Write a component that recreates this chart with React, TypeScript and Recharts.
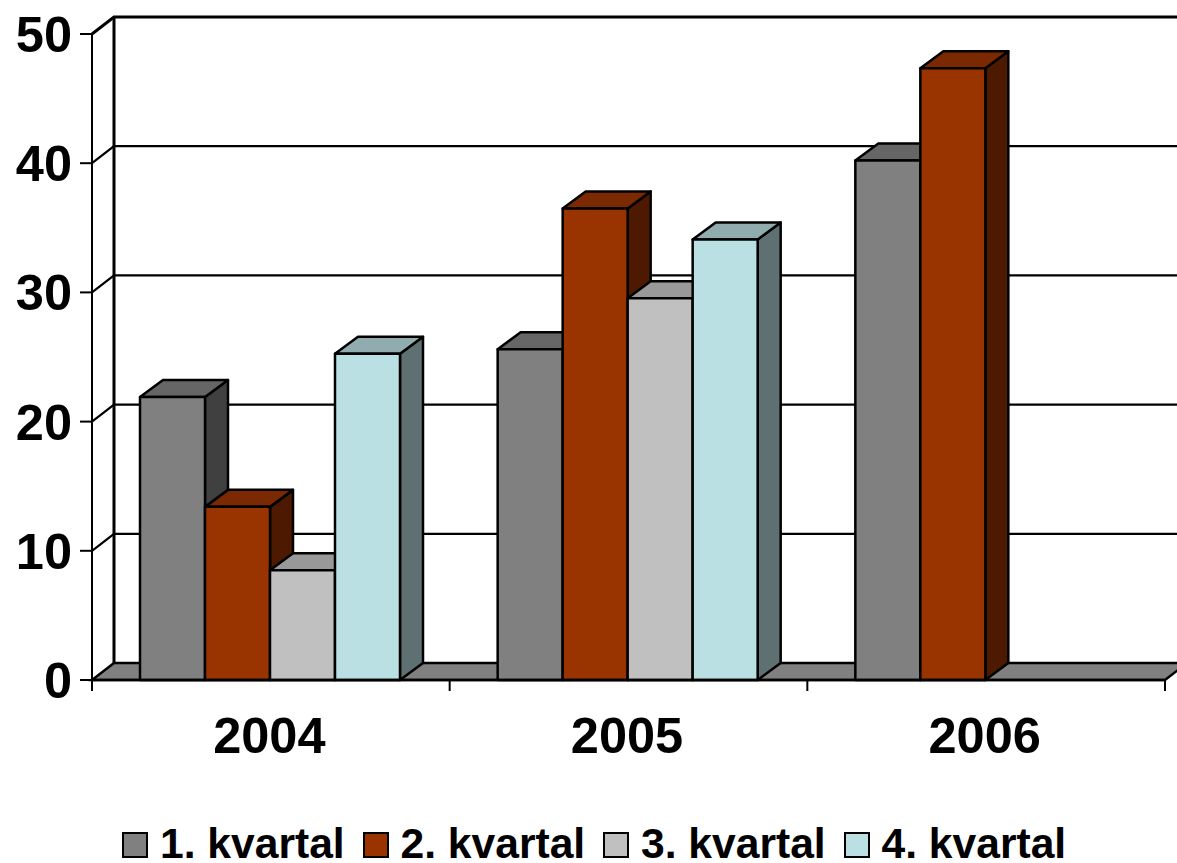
import { BarChart, Bar, XAxis, YAxis, CartesianGrid, Legend } from 'recharts'

const years = ['2004', '2005', '2006']
const q1 = [21.9, 25.6, 40.2]
const q2 = [13.4, 36.5, 47.35]
const q3 = [8.5, 29.55, null]
const q4 = [25.25, 34.1, null]
const seriesNames = ['1. kvartal', '2. kvartal', '3. kvartal', '4. kvartal']
const yTicks = [0, 10, 20, 30, 40, 50]

const colors = ['#808080', '#993300', '#C0C0C0', '#BBE0E3']
const sideColors = ['#404040', '#4D1900', '#606060', '#5E7072']
const topColors = ['#666666', '#7A2900', '#999999', '#90ACAE']

const data = years.map((year, i) => ({ year, q1: q1[i], q2: q2[i], q3: q3[i], q4: q4[i] }))
const seriesKeys = ['q1', 'q2', 'q3', 'q4']

const FONT = '"Liberation Sans", Arial, sans-serif'
const DEPTH_X = 23
const DEPTH_Y = 17
const WALL_X = 22
const PLOT_LEFT = 92
const PLOT_RIGHT = 1165
const BAND = (PLOT_RIGHT - PLOT_LEFT) / years.length

function Bar3D(props: any) {
  const { x, y, width, height, index } = props
  if (!height || height <= 0) return null
  const si = props.seriesIndex
  const r = x + width
  const b = y + height
  return (
    <g stroke="#000" strokeWidth={2.5} strokeLinejoin="round" key={index}>
      <polygon
        points={`${r},${y} ${r + DEPTH_X},${y - DEPTH_Y} ${r + DEPTH_X},${b - DEPTH_Y} ${r},${b}`}
        fill={sideColors[si]}
      />
      <polygon
        points={`${x},${y} ${x + DEPTH_X},${y - DEPTH_Y} ${r + DEPTH_X},${y - DEPTH_Y} ${r},${y}`}
        fill={topColors[si]}
      />
      <rect x={x} y={y} width={width} height={height} fill={colors[si]} />
    </g>
  )
}

// back wall line for each y tick, the one at 0 also gets the floor
function WallLine(props: any) {
  const { x1, x2, y1, index } = props
  const isFloor = Math.abs(y1 - 680) < 1
  const isTop = Math.abs(y1 - 34) < 1
  if (isFloor) {
    return (
      <g key={`wall-${index}`}>
        <polygon
          points={`${x1},${y1} ${x1 + WALL_X},${y1 - DEPTH_Y} ${x2 + WALL_X},${y1 - DEPTH_Y} ${x2},${y1}`}
          fill="#808080"
          stroke="#000"
          strokeWidth={2.5}
        />
        <line x1={x1 + WALL_X} x2={x1 + WALL_X} y1={34 - DEPTH_Y} y2={y1 - DEPTH_Y} stroke="#000" strokeWidth={3} />
      </g>
    )
  }
  return (
    <polyline
      key={`wall-${index}`}
      points={`${x1},${y1} ${x1 + WALL_X},${y1 - DEPTH_Y} ${x2 + WALL_X},${y1 - DEPTH_Y}`}
      fill="none"
      stroke="#000"
      strokeWidth={isTop ? 3 : 2.2}
    />
  )
}

function YearTick(props: any) {
  const { x, payload, index } = props
  const left = x - BAND / 2
  return (
    <g>
      <line x1={left} x2={left} y1={680} y2={691} stroke="#000" strokeWidth={2} />
      {index === years.length - 1 && (
        <line x1={left + BAND} x2={left + BAND} y1={680} y2={691} stroke="#000" strokeWidth={2} />
      )}
      <text x={x - 1.5} y={753} textAnchor="middle" fontFamily={FONT} fontWeight="bold" fontSize={50.5} fill="#000">
        {payload.value}
      </text>
    </g>
  )
}

function KvartalLegend() {
  return (
    <div style={{ display: 'flex', fontFamily: FONT, fontWeight: 'bold', fontSize: 42.6, lineHeight: '30px', height: 30, color: '#000' }}>
      {seriesNames.map((name, i) => (
        <div key={name} style={{ width: 240.5, display: 'flex', alignItems: 'center', whiteSpace: 'nowrap' }}>
          <span
            style={{
              width: 22,
              height: 22,
              marginRight: 12,
              background: colors[i],
              border: '2px solid #000',
              display: 'inline-block',
              flex: 'none',
              position: 'relative',
              top: 1.5,
            }}
          />
          {name}
        </div>
      ))}
    </div>
  )
}

export default function App() {
  return (
    <div style={{ position: 'absolute', left: 0, top: 0, width: 1177, height: 863, overflow: 'hidden', background: '#fff' }}>
      <BarChart
        width={1177}
        height={863}
        data={data}
        margin={{ top: 34, right: 12, bottom: 123, left: 0 }}
        barCategoryGap={48}
        barGap={0}
      >
        <CartesianGrid horizontal={WallLine} vertical={false} />
        <XAxis
          dataKey="year"
          height={60}
          tickLine={false}
          axisLine={{ stroke: '#000', strokeWidth: 2.5 }}
          tick={YearTick}
          interval={0}
        />
        <YAxis
          width={92}
          domain={[0, 50]}
          ticks={yTicks}
          tickSize={12}
          tickMargin={8}
          axisLine={{ stroke: '#000', strokeWidth: 2 }}
          tickLine={{ stroke: '#000', strokeWidth: 2 }}
          tick={{ fontFamily: FONT, fontWeight: 'bold', fontSize: 50.5, fill: '#000' }}
        />
        {seriesKeys.map((key, si) => (
          <Bar
            key={key}
            dataKey={key}
            name={seriesNames[si]}
            fill={colors[si]}
            isAnimationActive={false}
            shape={(p: any) => <Bar3D {...p} seriesIndex={si} />}
          />
        ))}
        <Legend
          layout="horizontal"
          verticalAlign="middle"
          content={KvartalLegend}
          wrapperStyle={{ position: 'absolute', left: 122, top: 828, width: 1000, height: 30, margin: 0 }}
        />
      </BarChart>
    </div>
  )
}
